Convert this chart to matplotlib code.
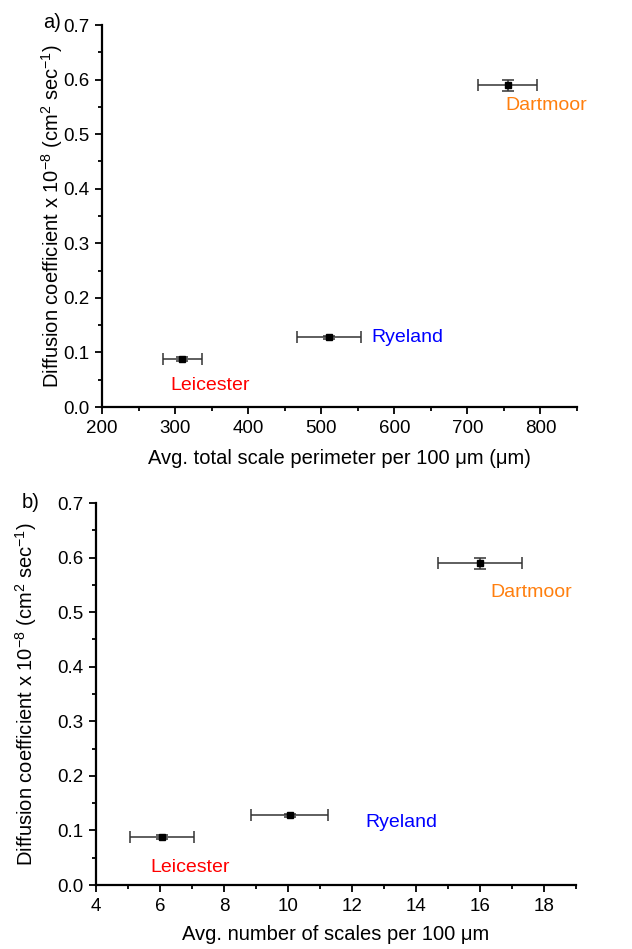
import matplotlib.pyplot as plt
from matplotlib.ticker import MultipleLocator, FormatStrFormatter

plt.rcParams['font.family'] = ['Liberation Sans', 'DejaVu Sans']

breeds = ['Leicester', 'Ryeland', 'Dartmoor']
breed_colors = ['#ff0000', '#0000ff', '#ff7f0e']
diffusion = [0.088, 0.128, 0.590]
diffusion_err = [0.003, 0.003, 0.010]

perimeter = [310, 511, 755]
perimeter_err = [27, 44, 40]

n_scales = [6.05, 10.05, 16.0]
n_scales_err = [1.0, 1.2, 1.3]

# label anchors (x, y) in data units for each breed
label_pos_a = [(348, 0.040), (618, 0.128), (808, 0.552)]
label_pos_b = [(6.95, 0.033), (13.55, 0.115), (17.6, 0.537)]

ylabel = ('Diffusion coefficient x $\\mathregular{10^{-8}}$ '
          '(cm$\\mathregular{^{2}}$ sec$\\mathregular{^{-1}}$)')

fig = plt.figure(figsize=(6.32, 9.49), dpi=100)
ax_a = fig.add_axes([0.1614, 0.5711, 0.7516, 0.4025])
ax_b = fig.add_axes([0.1519, 0.0674, 0.7595, 0.4025])


def draw_panel(ax, x, xerr, label_pos, xlim, xmajor, xminor, xlabel,
               ylab_x, xlab_y, tag, tag_xy):
    ax.errorbar(x, diffusion, xerr=xerr, yerr=diffusion_err, fmt='s', color='black',
                ecolor='#333333', elinewidth=1.1, capsize=4, capthick=1.1, markersize=4.5)
    for name, col, (tx, ty) in zip(breeds, breed_colors, label_pos):
        ax.text(tx, ty, name, color=col, fontsize=14, ha='center', va='center')
    ax.set_xlim(*xlim)
    ax.set_ylim(0, 0.7)
    ax.xaxis.set_major_locator(MultipleLocator(xmajor))
    ax.xaxis.set_minor_locator(MultipleLocator(xminor))
    ax.yaxis.set_major_locator(MultipleLocator(0.1))
    ax.yaxis.set_minor_locator(MultipleLocator(0.05))
    ax.yaxis.set_major_formatter(FormatStrFormatter('%.1f'))
    ax.spines['top'].set_visible(False)
    ax.spines['right'].set_visible(False)
    for s in ('left', 'bottom'):
        ax.spines[s].set_linewidth(1.6)
    ax.tick_params(which='major', direction='out', length=5, width=1.3,
                   labelsize=13.5, pad=4)
    ax.tick_params(which='minor', direction='out', length=3, width=1.3)
    ax.set_xlabel(xlabel, fontsize=14.5)
    ax.set_ylabel(ylabel, fontsize=14.5)
    pos = ax.get_position()
    ax.yaxis.set_label_coords(ylab_x, 0.5 * (pos.y0 + pos.y1), transform=fig.transFigure)
    ax.xaxis.set_label_coords(0.5 * (pos.x0 + pos.x1), xlab_y, transform=fig.transFigure)
    ax.xaxis.label.set_va('center')
    ax.yaxis.label.set_va('center')
    fig.text(tag_xy[0], tag_xy[1], tag, fontsize=14.5, ha='left', va='center')


draw_panel(ax_a, perimeter, perimeter_err, label_pos_a, (200, 850), 100, 50,
           'Avg. total scale perimeter per 100 \u03bcm (\u03bcm)',
           52 / 632, 1 - 459 / 949, 'a)', (43 / 632, 1 - 23 / 949))
draw_panel(ax_b, n_scales, n_scales_err, label_pos_b, (4, 19), 2, 1,
           'Avg. number of scales per 100 \u03bcm',
           26 / 632, 1 - 935 / 949, 'b)', (22 / 632, 1 - 503 / 949))

fig.savefig('out.png', dpi=100)
